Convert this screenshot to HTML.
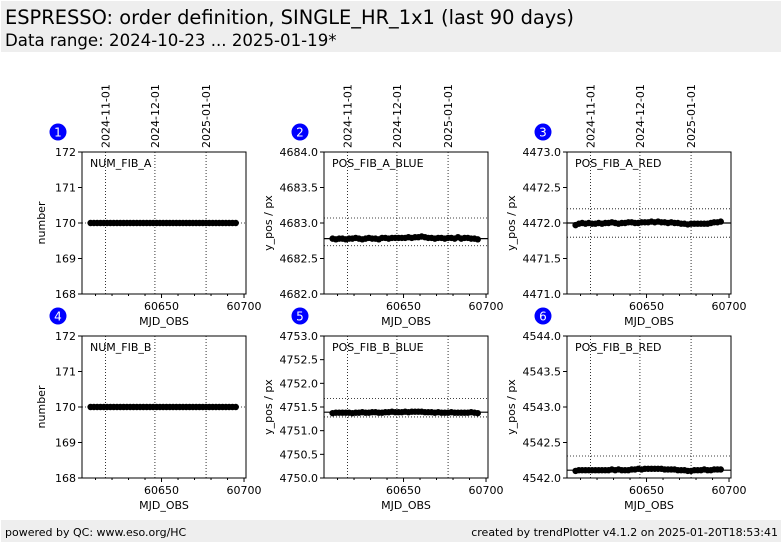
<!DOCTYPE html>
<html><head><meta charset="utf-8">
<style>
html,body{margin:0;padding:0;width:782px;height:542px;overflow:hidden;background:#fff;font-family:"DejaVu Sans","Liberation Sans",sans-serif;}
#hdr{position:absolute;left:1px;top:1px;width:780px;height:51px;background:#eeeeee;}
#t1{position:absolute;left:4px;top:5px;font-size:19.4px;color:#000;white-space:nowrap;}
#t2{position:absolute;left:4px;top:30px;font-size:16.6px;color:#000;white-space:nowrap;}
#ftr{position:absolute;left:1px;top:520px;width:780px;height:22px;background:#eeeeee;font-size:11px;}
#fl{position:absolute;left:4px;top:6px;}
#fr{position:absolute;right:3px;top:6px;}
svg{position:absolute;left:0;top:0;}
</style></head><body>
<div id="hdr">
<div id="t1">ESPRESSO: order definition, SINGLE_HR_1x1 (last 90 days)</div>
<div id="t2">Data range: 2024-10-23 ... 2025-01-19*</div>
</div>
<svg id="chart" width="782" height="542"></svg>
<div id="ftr">
<span id="fl">powered by QC: www.eso.org/HC</span>
<span id="fr">created by trendPlotter v4.1.2 on 2025-01-20T18:53:41</span>
</div>
<script>
const mjd = [60607,60609,60611,60613,60615,60617,60619,60621,60623,60625,60627,60629,60631,60633,60635,60637,60639,60641,60643,60645,60647,60649,60651,60653,60655,60657,60659,60661,60663,60665,60667,60669,60671,60673,60675,60677,60679,60681,60683,60685,60687,60689,60691,60693,60695];
const numFibA = [170,170,170,170,170,170,170,170,170,170,170,170,170,170,170,170,170,170,170,170,170,170,170,170,170,170,170,170,170,170,170,170,170,170,170,170,170,170,170,170,170,170,170,170,170];
const posFibABlue = [4682.78,4682.77,4682.78,4682.78,4682.77,4682.78,4682.78,4682.79,4682.78,4682.77,4682.78,4682.79,4682.78,4682.78,4682.77,4682.79,4682.79,4682.78,4682.79,4682.79,4682.79,4682.79,4682.79,4682.8,4682.79,4682.8,4682.8,4682.81,4682.8,4682.79,4682.79,4682.78,4682.79,4682.79,4682.78,4682.79,4682.79,4682.78,4682.8,4682.78,4682.79,4682.79,4682.78,4682.78,4682.77];
const posFibARed = [4471.97,4471.99,4472.0,4471.99,4472.0,4471.99,4471.99,4472.0,4471.99,4472.0,4472.0,4472.01,4472.0,4471.99,4472.0,4472.0,4472.01,4472.01,4472.0,4472.0,4472.01,4472.01,4472.01,4472.02,4472.01,4472.02,4472.01,4472.01,4472.0,4472.01,4472.0,4472.0,4471.99,4471.99,4471.98,4471.99,4471.99,4471.99,4471.99,4471.99,4471.99,4472.0,4472.01,4472.01,4472.02];
const numFibB = [170,170,170,170,170,170,170,170,170,170,170,170,170,170,170,170,170,170,170,170,170,170,170,170,170,170,170,170,170,170,170,170,170,170,170,170,170,170,170,170,170,170,170,170,170];
const posFibBBlue = [4751.37,4751.38,4751.38,4751.38,4751.38,4751.38,4751.37,4751.38,4751.38,4751.39,4751.38,4751.38,4751.39,4751.39,4751.38,4751.38,4751.39,4751.39,4751.4,4751.39,4751.39,4751.39,4751.4,4751.39,4751.4,4751.4,4751.4,4751.4,4751.39,4751.39,4751.39,4751.38,4751.39,4751.38,4751.38,4751.38,4751.39,4751.38,4751.38,4751.38,4751.38,4751.38,4751.39,4751.38,4751.37];
const posFibBRed = [4542.1,4542.11,4542.11,4542.11,4542.11,4542.11,4542.11,4542.11,4542.11,4542.11,4542.11,4542.12,4542.11,4542.12,4542.11,4542.11,4542.11,4542.12,4542.12,4542.13,4542.12,4542.13,4542.13,4542.13,4542.13,4542.13,4542.13,4542.12,4542.12,4542.12,4542.12,4542.11,4542.11,4542.11,4542.1,4542.1,4542.11,4542.11,4542.11,4542.12,4542.11,4542.11,4542.12,4542.12,4542.12];
const xTicks = [60650,60700];
const dateLabels = ["2024-11-01","2024-12-01","2025-01-01"];
const dateMjd = [60616,60646,60677];
const panelNames = ["NUM_FIB_A","POS_FIB_A_BLUE","POS_FIB_A_RED","NUM_FIB_B","POS_FIB_B_BLUE","POS_FIB_B_RED"];
const panelSeries = [numFibA,posFibABlue,posFibARed,numFibB,posFibBBlue,posFibBRed];
const yMins = [168,4682,4471,168,4750,4542];
const yMaxs = [172,4684,4473,172,4753,4544];
const yStep = [1,0.5,0.5,1,0.5,0.5];
const yDec = [0,1,1,0,1,1];
const yLabels = ["number","y_pos / px","y_pos / px","number","y_pos / px","y_pos / px"];
const refMean = [170,4682.78,4472.0,170,4751.39,4542.11];
const refUpper = [null,4683.07,4472.2,null,4751.68,4542.31];
const refLower = [null,4682.68,4471.8,null,4751.29,4541.91];

const NS="http://www.w3.org/2000/svg";
const svg=document.getElementById('chart');
function el(tag,attrs,parent){const e=document.createElementNS(NS,tag);for(const k in attrs)e.setAttribute(k,attrs[k]);(parent||svg).appendChild(e);return e;}
const colX=[82,324,567], rowY=[152,336], PW=164, PH=142;
const xMin=60601.8, xMax=60701.2;
for(let p=0;p<6;p++){
  const c=p%3, r=Math.floor(p/3);
  const L=colX[c], T=rowY[r];
  const g=el('g',{});
  
  
  const xs=v=>L+(v-xMin)/(xMax-xMin)*PW;
  const ys=v=>T+PH-(v-yMins[p])/(yMaxs[p]-yMins[p])*PH;
  const cp='clip'+p;
  const cl=el('clipPath',{id:cp},g);el('rect',{x:L,y:T,width:PW,height:PH},cl);
  for(let i=0;i<dateMjd.length;i++){
    const x=xs(dateMjd[i]);
    const dl=el('line',{x1:x,x2:x,y1:T,y2:T+PH,stroke:'#000','stroke-width':0.8,'stroke-dasharray':'1,2'},g);
    
    
    if(r===0){
      const t=el('text',{x:0,y:0,'font-size':11,transform:`translate(${x+4},${T-4}) rotate(-90)`},g);
      
      
      t.textContent=dateLabels[i];
    }
  }
  [refUpper[p],refLower[p]].forEach(v=>{ if(v===null)return;
    const y=ys(v);
    const rl=el('line',{x1:L,x2:L+PW,y1:y,y2:y,stroke:'#000','stroke-width':0.8,'stroke-dasharray':'1,2','clip-path':`url(#${cp})`},g);
    
    
  });
  const ym=ys(refMean[p]);
  const ml=el('line',{x1:L,x2:L+PW,y1:ym,y2:ym,stroke:'#000','stroke-width':p%3===0?0.8:1.2,'stroke-dasharray':p%3===0?'1,2':'none'},g);
  
  
  const s=panelSeries[p];
  for(let i=0;i<mjd.length;i++){
    const pt=el('circle',{cx:xs(mjd[i]),cy:ys(s[i]),r:3.2,fill:'#000'},g);
    
    
  }
  const fr=el('rect',{x:L,y:T,width:PW,height:PH,fill:'none',stroke:'#000','stroke-width':1},g);
  
  
  for(let v=yMins[p];v<=yMaxs[p]+1e-9;v+=yStep[p]){
    const y=ys(v);
    el('line',{x1:L-4,x2:L,y1:y,y2:y,stroke:'#000'},g);
    const t=el('text',{x:L-6,y:y+4,'font-size':11,'text-anchor':'end'},g);
    
    
    t.textContent=v.toFixed(yDec[p]);
  }
  for(let v=60610;v<=60700;v+=10){
    const x=xs(v);
    el('line',{x1:x,x2:x,y1:T+PH,y2:T+PH+(v%50===0?4:2),stroke:'#000'},g);
  }
  xTicks.forEach(v=>{
    const t=el('text',{x:xs(v),y:T+PH+16,'font-size':11,'text-anchor':'middle'},g);
    
    
    t.textContent=v;
  });
  const xt=el('text',{x:L+PW/2,y:T+PH+31,'font-size':11,'text-anchor':'middle'},g);
  
  
  xt.textContent='MJD_OBS';
  const yt=el('text',{x:0,y:0,'font-size':11,'text-anchor':'middle',transform:`translate(${L-(yDec[p]?52:37)},${T+PH/2}) rotate(-90)`},g);
  
  
  yt.textContent=yLabels[p];
  const pn=el('text',{x:L+8,y:T+15,'font-size':11},g);
  
  
  pn.textContent=panelNames[p];
  const bx=L-24, by=T-20;
  const bc=el('circle',{cx:bx,cy:by,r:8.5,fill:'#0000ff'},g);
  
  
  const bt=el('text',{x:bx,y:by+4.5,'font-size':12,'text-anchor':'middle',fill:'#fff'},g);
  
  
  bt.textContent=String(p+1);
}
</script>
</body></html>
